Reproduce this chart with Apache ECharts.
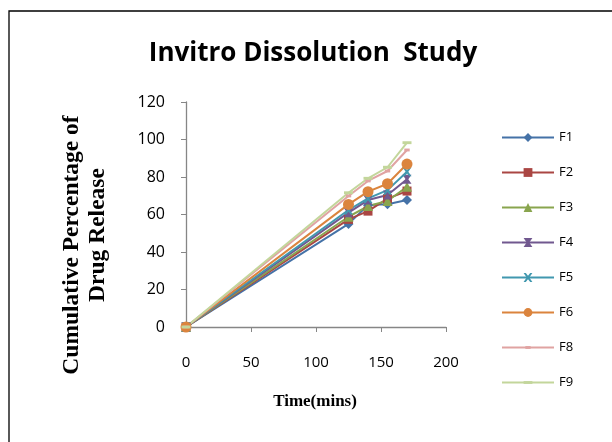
<!DOCTYPE html>
<html><head><meta charset="utf-8">
<script src="https://cdn.jsdelivr.net/npm/echarts@6/dist/echarts.min.js"></script>
<style>html,body{margin:0;padding:0;background:#fff}#c{width:612px;height:442px}</style>
</head><body><div id="c"></div>
<script>
const times = [0, 125, 140, 155, 170];
const seriesNames = ['F1','F2','F3','F4','F5','F6','F8','F9'];
const F1 = [0, 55.0, 65.0, 65.5, 67.7];
const F2 = [0, 57.4, 61.8, 68.5, 72.5];
const F3 = [0, 58.8, 64.5, 67.2, 74.8];
const F4 = [0, 61.0, 67.7, 70.4, 78.8];
const F5 = [0, 62.4, 68.6, 73.0, 82.8];
const F6 = [0, 65.4, 72.2, 76.4, 86.9];
const F8 = [0, 69.9, 77.9, 83.2, 94.4];
const F9 = [0, 71.6, 79.3, 85.2, 98.3];
const yTicks = [0, 20, 40, 60, 80, 100, 120];
const xTicks = [0, 50, 100, 150, 200];

const values = [F1,F2,F3,F4,F5,F6,F8,F9];
const colors = ['#4572A7','#AA4643','#89A54E','#71588F','#4198AF','#DB843D','#E0A3A2','#C3D69B'];
const dash = 'path://M0,0L0,0M0,3.4L10,3.4L10,6.6L0,6.6ZM10,10L10,10';
const dashShort = 'path://M0,0L0,0M2,3.4L8,3.4L8,6.6L2,6.6ZM10,10L10,10';
const symbols = ['diamond','rect','triangle',
  'path://M0,0L10,0L6.5,5L10,10L0,10L3.5,5Z',
  'path://M0,0L2.5,0L5,3L7.5,0L10,0L6.5,5L10,10L7.5,10L5,7L2.5,10L0,10L3.5,5Z',
  'circle', dashShort, dash];
const sizes = [10, 9, 10, 9, 9, 11, 9, 9];

const chart = echarts.init(document.getElementById('c'));
chart.setOption({
  animation: false,
  backgroundColor: '#fff',
  title: {
    text: 'Invitro Dissolution  Study',
    left: 308, top: 36, textAlign: 'center',
    textStyle: {fontFamily: 'Open Sans', fontWeight: 'bold', fontSize: 26, color: '#000'}
  },
  graphic: [
    {type: 'rect', shape: {x: 9, y: 11, width: 700, height: 500}, style: {fill: 'none', stroke: '#000', lineWidth: 1.3}, z: -1},
    {type: 'text', x: 72, y: 245, rotation: Math.PI/2, style: {text: 'Cumulative Percentage of', fontFamily: 'Liberation Serif', fontWeight: 'bold', fontSize: 23.5, fill: '#000', textAlign: 'center', textVerticalAlign: 'middle'}},
    {type: 'text', x: 98, y: 235, rotation: Math.PI/2, style: {text: 'Drug Release', fontFamily: 'Liberation Serif', fontWeight: 'bold', fontSize: 23.5, fill: '#000', textAlign: 'center', textVerticalAlign: 'middle'}},
    {type: 'text', x: 315, y: 402, style: {text: 'Time(mins)', fontFamily: 'Liberation Serif', fontWeight: 'bold', fontSize: 17, fill: '#000', textAlign: 'center', textVerticalAlign: 'middle'}}
  ],
  legend: {
    orient: 'vertical', left: 496, top: 126,
    itemWidth: 52, itemHeight: 11, itemGap: 22,
    data: seriesNames,
    textStyle: {fontFamily: 'Open Sans', fontSize: 13, color: '#000'}
  },
  grid: {left: 186, top: 102, width: 260, height: 225, containLabel: false},
  xAxis: {
    type: 'value', min: xTicks[0], max: xTicks[xTicks.length-1], interval: 50,
    axisLine: {lineStyle: {color: '#868686', width: 1.3}},
    axisTick: {show: true, length: 5, inside: false, lineStyle: {color: '#868686'}},
    axisLabel: {margin: 28, fontFamily: 'Open Sans', fontSize: 15, color: '#000'},
    splitLine: {show: false}
  },
  yAxis: {
    type: 'value', min: yTicks[0], max: yTicks[yTicks.length-1], interval: 20,
    axisLine: {show: true, lineStyle: {color: '#868686', width: 1.3}},
    axisTick: {show: true, length: 5, lineStyle: {color: '#868686'}},
    axisLabel: {margin: 21, fontFamily: 'Open Sans', fontSize: 16, color: '#000'},
    splitLine: {show: false}
  },
  series: seriesNames.map((n, i) => ({
    name: n, type: 'line',
    data: times.map((t, j) => [t, values[i][j]]),
    color: colors[i],
    symbol: symbols[i], symbolSize: sizes[i], showAllSymbol: true,
    lineStyle: {width: 2, color: colors[i]},
    itemStyle: {color: colors[i]}
  }))
});
</script></body></html>
